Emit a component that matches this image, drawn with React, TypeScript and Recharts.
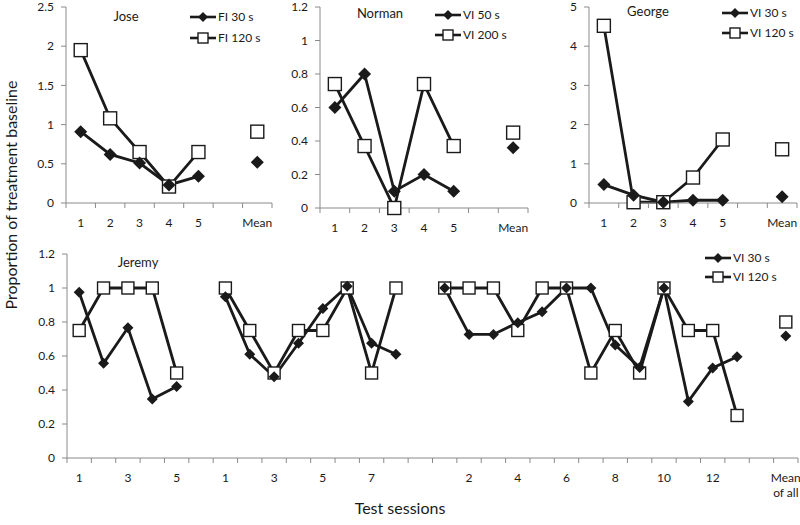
import React from "react";
import { LineChart, Line, XAxis, YAxis } from "recharts";

const FONT = "Lato, 'Open Sans', sans-serif";
const AXIS = "#8a8a8a";
const INK = "#1a1a1a";

/* ── Jose ── */
const joseSessions = ["1", "2", "3", "4", "5", "", "Mean"];
const joseFI30 = [0.91, 0.62, 0.51, 0.23, 0.34, null, 0.52];
const joseFI120 = [1.95, 1.08, 0.65, 0.21, 0.65, null, 0.91];
const joseTicks = [0, 0.5, 1, 1.5, 2, 2.5];

/* ── Norman ── */
const normanSessions = ["1", "2", "3", "4", "5", "", "Mean"];
const normanVI50 = [0.6, 0.8, 0.1, 0.2, 0.1, null, 0.36];
const normanVI200 = [0.74, 0.37, 0.0, 0.74, 0.37, null, 0.45];
const normanTicks = [0, 0.2, 0.4, 0.6, 0.8, 1, 1.2];

/* ── George ── */
const georgeSessions = ["1", "2", "3", "4", "5", "", "Mean"];
const georgeVI30 = [0.47, 0.2, 0.02, 0.07, 0.07, null, 0.16];
const georgeVI120 = [4.52, 0.02, 0.02, 0.65, 1.62, null, 1.37];
const georgeTicks = [0, 1, 2, 3, 4, 5];

/* ── Jeremy (three phases + mean of all) ── */
const jeremySessions = [
  "1", "2", "3", "4", "5", "",
  "1", "2", "3", "4", "5", "6", "7", "8", "",
  "1", "2", "3", "4", "5", "6", "7", "8", "9", "10", "11", "12", "13", "",
  "Mean\nof all",
];
const jeremyTickLabels = [
  "1", "", "3", "", "5", "",
  "1", "", "3", "", "5", "", "7", "", "",
  "", "2", "", "4", "", "6", "", "8", "", "10", "", "12", "", "",
  "Mean\nof all",
];
const jeremyVI30 = [
  0.975, 0.557, 0.766, 0.347, 0.42, null,
  0.949, 0.61, 0.478, 0.675, 0.88, 1.01, 0.675, 0.61, null,
  1.0, 0.727, 0.727, 0.796, 0.86, 1.0, 1.0, 0.665, 0.533, 1.0, 0.333, 0.53, 0.596, null,
  0.718,
];
const jeremyVI120 = [
  0.75, 1, 1, 1, 0.5, null,
  1, 0.75, 0.5, 0.75, 0.75, 1, 0.5, 1, null,
  1, 1, 1, 0.75, 1, 1, 0.5, 0.75, 0.5, 1, 0.75, 0.75, 0.25, null,
  0.8,
];
const jeremyTicks = [0, 0.2, 0.4, 0.6, 0.8, 1, 1.2];

function Diamond({ cx, cy, r = 6 }: { cx: number; cy: number; r?: number }) {
  return <polygon points={`${cx},${cy - r} ${cx + r},${cy} ${cx},${cy + r} ${cx - r},${cy}`} fill={INK} />;
}
function Square({ cx, cy, s = 12 }: { cx: number; cy: number; s?: number }) {
  return <rect x={cx - s / 2} y={cy - s / 2} width={s} height={s} fill="#fff" stroke={INK} strokeWidth={1.4} />;
}

type Box = { left: number; top: number; right: number; bottom: number };

const Y_W = 60, M_TOP = 8, M_R = 4, X_H = 44;

function Panel({ box, labels, a, b, yTicks, small = false }: {
  box: Box; labels: string[]; a: (number | null)[]; b: (number | null)[]; yTicks: number[]; small?: boolean;
}) {
  const plotW = box.right - box.left;
  const plotH = box.bottom - box.top;
  const bw = plotW / labels.length;
  const data = labels.map((l, i) => ({ i, a: a[i], b: b[i] }));
  const dR = small ? 5.5 : 6.5;
  const sS = small ? 12 : 13;

  const tick = (p: any) => {
    const { x, y, payload } = p;
    const idx = payload.value as number;
    const lines = (labels[idx] ?? "").split("\n");
    return (
      <g>
        <line x1={x - bw / 2} x2={x - bw / 2} y1={y} y2={y + 5} stroke={AXIS} />
        {idx === labels.length - 1 && <line x1={x + bw / 2} x2={x + bw / 2} y1={y} y2={y + 5} stroke={AXIS} />}
        <text x={x} y={y + 24} textAnchor="middle" fontSize={12} fontFamily={FONT} fill={INK}>
          {lines.map((l, k) => <tspan key={k} x={x} dy={k ? 15 : 0}>{l}</tspan>)}
        </text>
      </g>
    );
  };

  return (
    <div style={{ position: "absolute", left: box.left - Y_W, top: box.top - M_TOP }}>
      <LineChart width={plotW + Y_W + M_R} height={plotH + M_TOP + X_H} data={data}
        margin={{ top: M_TOP, right: M_R, left: 0, bottom: 0 }}>
        <XAxis dataKey="i" type="category" scale="band" interval={0} height={X_H} tick={tick}
          tickLine={false} tickSize={0} tickMargin={0} axisLine={{ stroke: AXIS }} />
        <YAxis width={Y_W} domain={[yTicks[0], yTicks[yTicks.length - 1]]} ticks={yTicks} interval={0}
          tickSize={5} tickMargin={7} tickLine={{ stroke: AXIS }} axisLine={{ stroke: AXIS }}
          tick={{ fontSize: 12, fontFamily: FONT, fill: INK }} />
        <Line dataKey="b" stroke={INK} strokeWidth={2.8} isAnimationActive={false} connectNulls={false}
          dot={(p: any) => p.value == null || p.cy == null ? <g key={p.index} /> : <Square key={p.index} cx={p.cx} cy={p.cy} s={sS} />}
          activeDot={false} />
        <Line dataKey="a" stroke={INK} strokeWidth={2.8} isAnimationActive={false} connectNulls={false}
          dot={(p: any) => p.value == null || p.cy == null ? <g key={p.index} /> : <Diamond key={p.index} cx={p.cx} cy={p.cy} r={dR} />}
          activeDot={false} />
      </LineChart>
    </div>
  );
}

function LegendBox({ x, y1, y2, a, b }: { x: number; y1: number; y2: number; a: string; b: string }) {
  return (
    <g fontFamily={FONT} fontSize={12} fill={INK}>
      <line x1={x} x2={x + 26} y1={y1} y2={y1} stroke={INK} strokeWidth={2.6} />
      <Diamond cx={x + 13} cy={y1} r={5} />
      <text x={x + 28} y={y1 + 4}>{a}</text>
      <line x1={x} x2={x + 26} y1={y2} y2={y2} stroke={INK} strokeWidth={2.6} />
      <Square cx={x + 13} cy={y2} s={10} />
      <text x={x + 28} y={y2 + 4}>{b}</text>
    </g>
  );
}

export default function App() {
  return (
    <div style={{ position: "relative", width: 800, height: 525, background: "#fff", overflow: "hidden" }}>
      <style>{"body{margin:0}"}</style>
      <Panel box={{ left: 66, top: 7, right: 272, bottom: 203 }} labels={joseSessions} a={joseFI30} b={joseFI120} yTicks={joseTicks} />
      <Panel box={{ left: 320, top: 7, right: 528, bottom: 208 }} labels={normanSessions} a={normanVI50} b={normanVI200} yTicks={normanTicks} />
      <Panel box={{ left: 589, top: 7, right: 797, bottom: 203 }} labels={georgeSessions} a={georgeVI30} b={georgeVI120} yTicks={georgeTicks} />
      <Panel box={{ left: 67, top: 254, right: 798, bottom: 458 }} labels={jeremyTickLabels} a={jeremyVI30} b={jeremyVI120} yTicks={jeremyTicks} small />
      <svg width={800} height={525} style={{ position: "absolute", left: 0, top: 0, pointerEvents: "none" }}>
        <g fontFamily={FONT} fontSize={13} fill={INK} textAnchor="middle">
          <text x={126} y={21}>Jose</text>
          <text x={380} y={18}>Norman</text>
          <text x={648} y={16}>George</text>
          <text x={138} y={267}>Jeremy</text>
        </g>
        <LegendBox x={190} y1={17} y2={38} a="FI 30 s" b="FI 120 s" />
        <LegendBox x={435} y1={15} y2={35} a="VI 50 s" b="VI 200 s" />
        <LegendBox x={722} y1={13} y2={33} a="VI 30 s" b="VI 120 s" />
        <LegendBox x={705} y1={258} y2={277} a="VI 30 s" b="VI 120 s" />
        <text x={0} y={0} transform="translate(17,195) rotate(-90)" textAnchor="middle" fontFamily={FONT} fontSize={16} fill={INK}>
          Proportion of treatment baseline
        </text>
        <text x={400} y={514} textAnchor="middle" fontFamily={FONT} fontSize={16} fill={INK}>Test sessions</text>
      </svg>
    </div>
  );
}
